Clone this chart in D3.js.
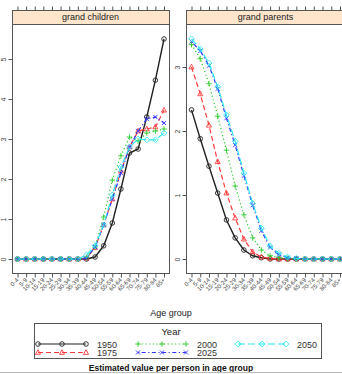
<!DOCTYPE html>
<html><head><meta charset="utf-8">
<script src="https://cdn.jsdelivr.net/npm/d3@7"></script>
<style>body{margin:0;background:#fff;}svg{display:block;font-family:"Liberation Sans",Arial,sans-serif;}</style>
</head><body><svg id="c" width="342" height="374"></svg>
<script>
const ageGroups = ["0-4","5-9","10-14","15-19","20-24","25-29","30-34","35-39","40-44","45-49","50-54","55-59","60-64","65-69","70-74","75-79","80-84","85+"];
const years = ["1950","1975","2000","2025","2050"];
const panels = ["grand children","grand parents"];
const grandChildren = {
  "1950":[0,0,0,0,0,0,0,0,0,0.05,0.33,0.9,1.75,2.65,2.75,3.55,4.47,5.5],
  "1975":[0,0,0,0,0,0,0,0,0.02,0.28,0.85,1.5,2.2,2.8,3.2,3.25,3.3,3.72],
  "2000":[0,0,0,0,0,0,0,0,0.03,0.3,1.05,1.97,2.58,3.05,2.95,3.15,3.2,3.25],
  "2025":[0,0,0,0,0,0,0,0,0.02,0.3,0.85,1.5,2.15,2.8,3.2,3.5,3.55,3.4],
  "2050":[0,0,0,0,0,0,0,0,0.1,0.33,0.85,1.6,2.3,2.8,3.0,2.98,2.98,3.15]
};
const grandParents = {
  "1950":[2.33,1.88,1.45,1.03,0.61,0.33,0.14,0.05,0.02,0,0,0,0,0,0,0,0,0],
  "1975":[3.0,2.58,2.09,1.52,1.03,0.64,0.31,0.11,0.03,0.01,0,0,0,0,0,0,0,0],
  "2000":[3.35,3.13,2.74,2.23,1.7,1.14,0.69,0.33,0.14,0.05,0.02,0.01,0,0,0,0,0,0],
  "2025":[3.4,3.25,3.02,2.66,2.2,1.78,1.3,0.84,0.44,0.18,0.07,0.02,0.01,0,0,0,0,0],
  "2050":[3.44,3.28,3.06,2.69,2.25,1.84,1.34,0.87,0.48,0.2,0.09,0.03,0.01,0,0,0,0,0]
};
const yTicksGC = [0,1,2,3,4,5];
const yTicksGP = [0,1,2,3];

const colors = {"1950":"#222","1975":"#ff3a3a","2000":"#2ccc2c","2025":"#3030ff","2050":"#2ae6f0"};
const dashes = {"1950":null,"1975":"5,3","2000":"1.2,2.5","2025":"1.2,2.5,4,2.5","2050":"7,3"};
const shapes = {"1950":"circle","1975":"triangle","2000":"plus","2025":"x","2050":"diamond"};

function shapePath(s){
  const r=2.3;
  switch(s){
    case "circle": return `M${-r},0a${r},${r} 0 1,0 ${2*r},0a${r},${r} 0 1,0 ${-2*r},0`;
    case "triangle": return `M0,${-r*1.2}L${r*1.1},${r*0.8}L${-r*1.1},${r*0.8}Z`;
    case "plus": return `M${-r*1.2},0H${r*1.2}M0,${-r*1.2}V${r*1.2}`;
    case "x": return `M${-r*0.9},${-r*0.9}L${r*0.9},${r*0.9}M${-r*0.9},${r*0.9}L${r*0.9},${-r*0.9}`;
    case "diamond": return `M0,${-r*1.25}L${r*1.25},0L0,${r*1.25}L${-r*1.25},0Z`;
  }
}

const svg = d3.select("#c");
const axisCol = "#555";
const plotTop = 24, plotBot = 273, stripTop = 10;

const panelDefs = [
  {name: panels[0], data: grandChildren, x0: 12, x1: 169, yDomain: [-0.35, 5.875], ticks: yTicksGC},
  {name: panels[1], data: grandParents, x0: 186, x1: 345, yDomain: [-0.219, 3.672], ticks: yTicksGP}
];

panelDefs.forEach(p => {
  const x = d3.scalePoint().domain(ageGroups).range([p.x0 + 5.5, p.x1 - 5]);
  const y = d3.scaleLinear().domain(p.yDomain).range([plotBot, plotTop]);
  const g = svg.append("g");
  g.append("rect").attr("x", p.x0+0.5).attr("y", stripTop+0.5).attr("width", p.x1-p.x0).attr("height", plotTop-stripTop)
    .attr("fill", "#ffe5cc").attr("stroke", axisCol);
  g.append("text").attr("x", (p.x0+p.x1)/2).attr("y", stripTop+10).attr("text-anchor","middle")
    .attr("font-size", 9).attr("fill","#222").text(p.name);
  g.append("rect").attr("x", p.x0+0.5).attr("y", plotTop+0.5).attr("width", p.x1-p.x0).attr("height", plotBot-plotTop)
    .attr("fill", "none").attr("stroke", axisCol);
  const xb = d3.axisBottom(x).tickSize(4).tickFormat("");
  const ax = g.append("g").attr("transform", `translate(0,${plotBot+0.5})`).call(xb);
  ax.select(".domain").remove();
  ax.selectAll("line").attr("stroke", axisCol);
  ax.selectAll(".tick").append("text")
    .attr("transform","translate(1,7) rotate(-45)")
    .attr("text-anchor","end").attr("font-size",6).attr("fill","#444")
    .text(d=>d);
  const xt = d3.axisTop(x).tickSize(4).tickFormat("");
  const at = g.append("g").attr("transform", `translate(0,${stripTop+0.5})`).call(xt);
  at.select(".domain").remove();
  at.selectAll("line").attr("stroke", axisCol);
  const yl = d3.axisLeft(y).tickValues(p.ticks).tickSize(4).tickFormat("");
  const ay = g.append("g").attr("transform", `translate(${p.x0+0.5},0)`).call(yl);
  ay.select(".domain").remove();
  ay.selectAll("line").attr("stroke", axisCol);
  ay.selectAll(".tick").append("text")
    .attr("transform","translate(-7,0) rotate(-90)")
    .attr("text-anchor","middle").attr("font-size",7).attr("fill","#444")
    .text(d=>d);
  const line = d3.line().x((d,i)=>x(ageGroups[i])).y(d=>y(d));
  years.forEach(yr => {
    const vals = p.data[yr];
    g.append("path").datum(vals).attr("d", line).attr("fill","none")
      .attr("stroke", colors[yr]).attr("stroke-width", yr==="1950"?1.4:1.2)
      .attr("stroke-dasharray", dashes[yr]);
    g.selectAll(null).data(vals).enter().append("path")
      .attr("transform",(d,i)=>`translate(${x(ageGroups[i])},${y(d)})`)
      .attr("d", shapePath(shapes[yr])).attr("fill","none")
      .attr("stroke", colors[yr]).attr("stroke-width", 0.9);
  });
});

svg.append("text").attr("x",171).attr("y",316).attr("text-anchor","middle").attr("font-size",9).attr("fill","#222").text("Age group");

const lg = svg.append("g");
lg.append("rect").attr("x",34.5).attr("y",323.5).attr("width",287).attr("height",35).attr("fill","none").attr("stroke",axisCol);
lg.append("text").attr("x",171).attr("y",335).attr("text-anchor","middle").attr("font-size",9.5).attr("fill","#222").text("Year");
const cols = [38,138,238];
years.forEach((yr,i) => {
  const c = Math.floor(i/2), r = i%2;
  const lx = cols[c], ly = 344 + r*8.5;
  const lxs = d3.scaleLinear().domain([0,2]).range([lx, lx+48]);
  lg.append("line").attr("x1",lxs(0)).attr("x2",lxs(2)).attr("y1",ly).attr("y2",ly)
    .attr("stroke",colors[yr]).attr("stroke-width",1.2).attr("stroke-dasharray",dashes[yr]);
  [0,1,2].forEach(k => lg.append("path").attr("transform",`translate(${lxs(k)},${ly})`)
    .attr("d",shapePath(shapes[yr])).attr("fill","none").attr("stroke",colors[yr]).attr("stroke-width",0.9));
  lg.append("text").attr("x",lx+59).attr("y",ly+3.5).attr("font-size",9).attr("fill","#333").text(yr);
});
svg.append("text").attr("x",171).attr("y",371).attr("text-anchor","middle").attr("font-size",8.5).attr("font-weight","bold").attr("fill","#111").text("Estimated value per person in age group");
svg.append("line").attr("x1",0).attr("x2",342).attr("y1",372.5).attr("y2",372.5).attr("stroke","#bbb");
</script></body></html>
